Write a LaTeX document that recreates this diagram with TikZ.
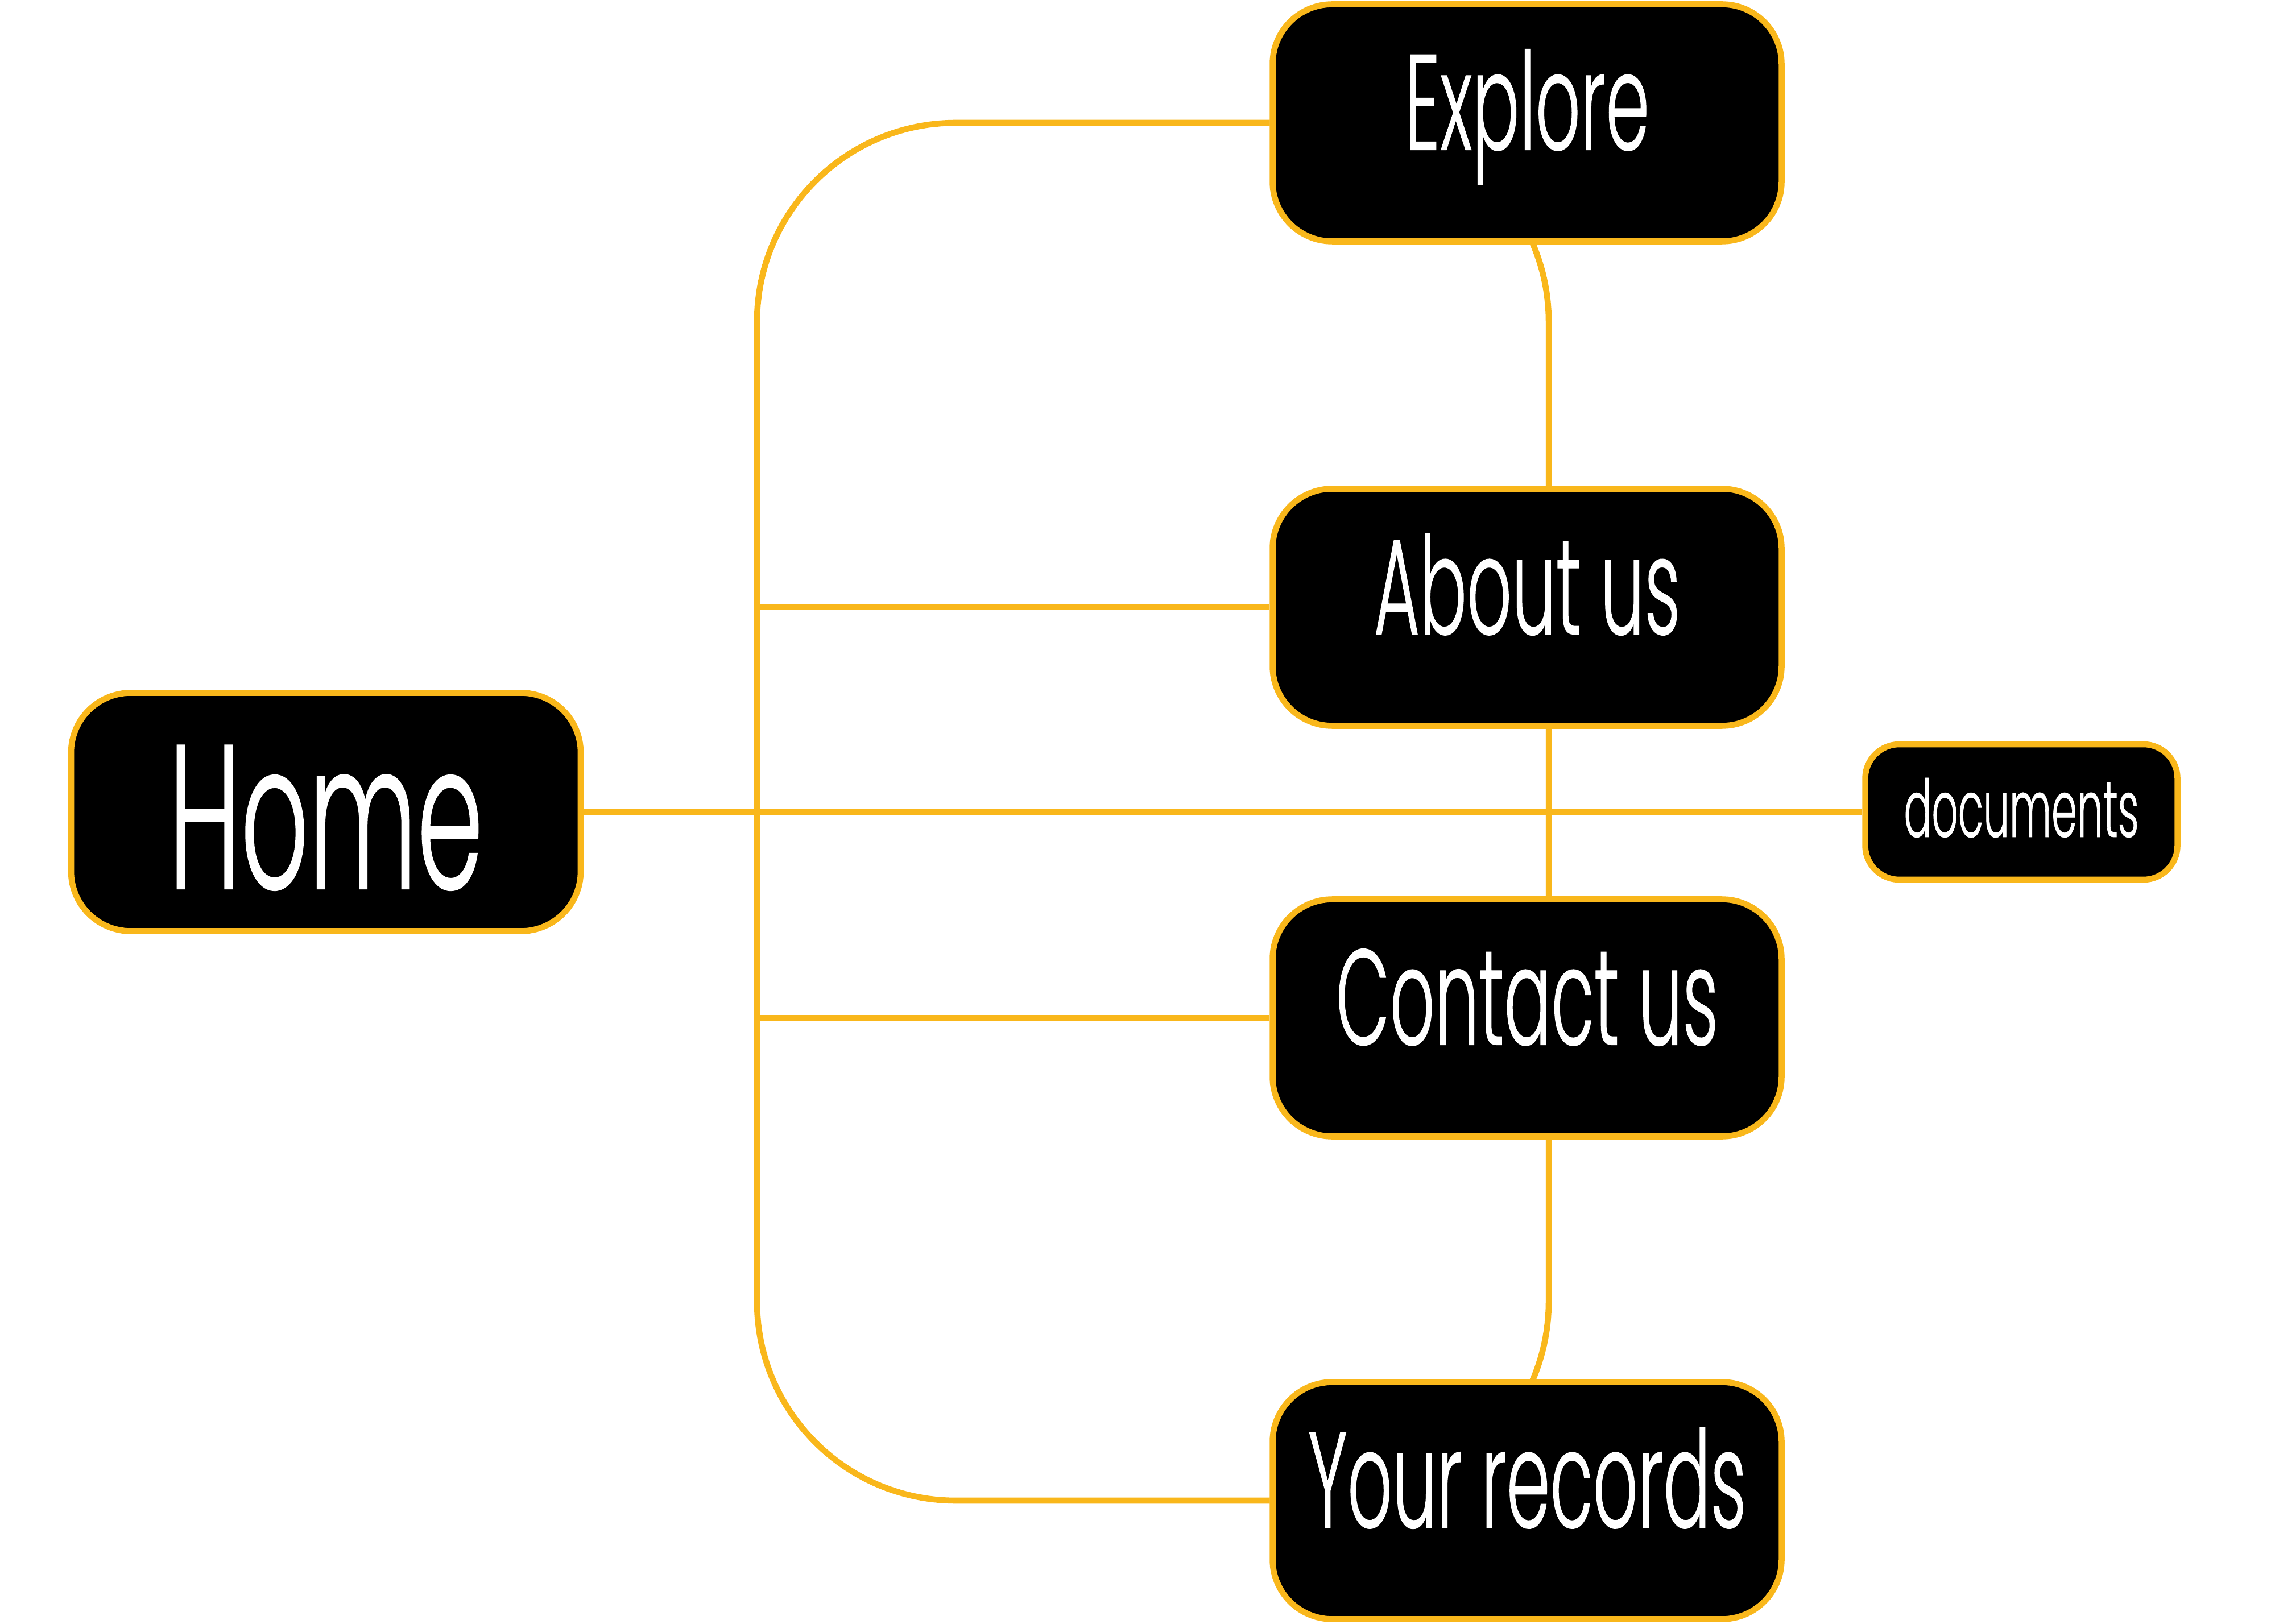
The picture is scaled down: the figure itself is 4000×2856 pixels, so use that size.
\documentclass[tikz,border=0pt]{standalone}
\usepackage{fontspec}
\newfontfamily\navfont[FakeStretch=0.515, FakeBold=0.5, UprightFont=* Light]{Poppins}
\usetikzlibrary{backgrounds}
\definecolor{navgold}{HTML}{F9B71B}

\begin{document}
\begin{tikzpicture}[x=0.1mm,y=-0.1mm,
    page/.style={draw=navgold, line width=3pt, fill=black, text=white,
        rounded corners=10.5mm, inner sep=0pt,
        minimum width=89.5mm, minimum height=41.7mm,
        font=\navfont\fontsize{68pt}{68pt}\selectfont,
        text height=48pt, text depth=21pt},
    link/.style={draw=navgold, line width=3pt}]

    \useasboundingbox (0,0) rectangle (4000,2856);

    % nodes (pages)
    \node[page, minimum width=89.6mm, minimum height=41.9mm,
        font=\navfont\fontsize{103pt}{103pt}\selectfont,
        text height=77pt, text depth=0pt] (home) at (573,1428) {Home};
    \node[page] (explore) at (2685,216) {Explore};
    \node[page] (about) at (2685,1068) {About us};
    \node[page] (contact) at (2685,1790) {Contact us};
    \node[page] (records) at (2685,2639) {Your records};
    \node[page, minimum width=54.9mm, minimum height=23.8mm, rounded corners=6mm,
        font=\navfont\fontsize{40pt}{40pt}\selectfont,
        text height=32pt, text depth=7pt] (docs) at (3554,1428) {documents};

    % edges
    \coordinate (trunk) at (1331,1428);
    \coordinate (spine) at (2723,1428);
    \begin{scope}[on background layer]
        \draw[link] (home) -- (docs); % home -> documents
        \draw[link, rounded corners=35mm] (explore.west) -- (explore.west -| trunk)
            -- (records.west -| trunk) -- (records.west); % explore -> your records
        \draw[link] (about.west) -- (about.west -| trunk); % about us
        \draw[link] (contact.west) -- (contact.west -| trunk); % contact us
        \draw[link, rounded corners=35mm] (explore.west) -- (explore.west -| spine)
            -- (records.west -| spine) -- (records.west); % explore -> your records
    \end{scope}

\end{tikzpicture}
\end{document}
